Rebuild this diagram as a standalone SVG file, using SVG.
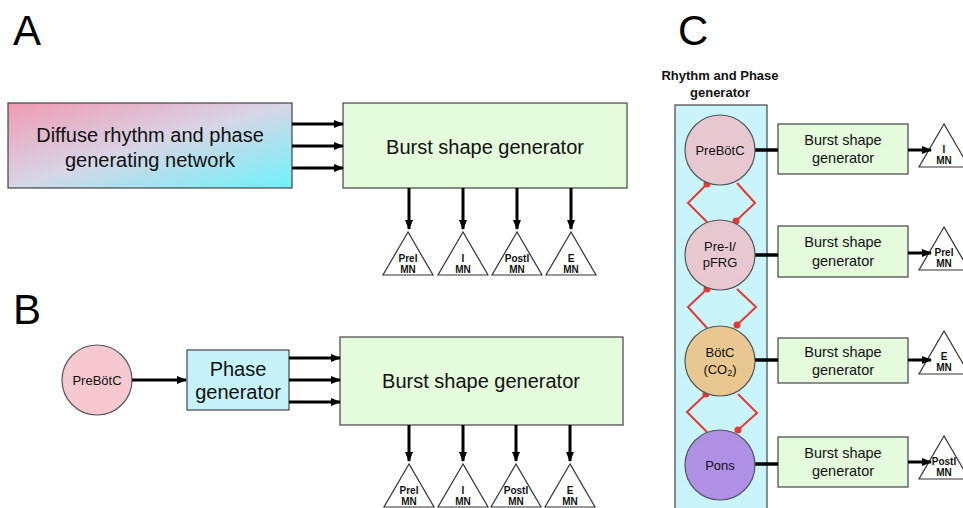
<svg xmlns="http://www.w3.org/2000/svg" width="963" height="508" viewBox="0 0 963 508">
<defs>
<linearGradient id="gdiff" x1="0" y1="0" x2="1" y2="1">
<stop offset="0" stop-color="#f09ab2"/>
<stop offset="0.5" stop-color="#d6d6e6"/>
<stop offset="1" stop-color="#6ef2fa"/>
</linearGradient>
<marker id="ah" markerWidth="10" markerHeight="8" refX="9" refY="4" orient="auto" markerUnits="userSpaceOnUse">
<path d="M0,0 L10,4 L0,8 Z" fill="#000"/>
</marker>
<marker id="dot" markerWidth="8" markerHeight="8" refX="4" refY="4" markerUnits="userSpaceOnUse">
<circle cx="4" cy="4" r="3.5" fill="#e53935"/>
</marker>
<style>
.box{stroke:#444;stroke-width:1.2}
.burst{fill:#e4fbdc}
.lbl{font-family:"Liberation Sans",Arial,sans-serif;fill:#111;text-anchor:middle}
.big{font-size:42px;font-family:"Liberation Sans",Arial,sans-serif;fill:#000}
.t20{font-size:20px}
.t14{font-size:14.5px}
.t13{font-size:13px}
.mn{font-size:10px;font-weight:bold}
.ar{stroke:#000;stroke-width:3;fill:none;marker-end:url(#ah)}
.ln{stroke:#000;stroke-width:3.5;fill:none}
.tri{fill:#fff;stroke:#333;stroke-width:1.2}
.inh{stroke:#e53935;stroke-width:2;fill:none}
.cir{stroke:#555;stroke-width:1.2}
</style>
</defs>
<rect width="963" height="508" fill="#fff"/>

<text class="big" x="13" y="45">A</text>
<text class="big" x="13" y="324">B</text>
<text class="big" x="678" y="45">C</text>

<!-- Panel A -->
<g id="diffuse">
<rect class="box" x="8" y="103" width="284" height="85" fill="url(#gdiff)"/>
<text class="lbl t20" x="150" y="142">Diffuse rhythm and phase</text>
<text class="lbl t20" x="150" y="167">generating network</text>
</g>
<g id="burstA">
<rect class="box burst" x="343" y="103" width="284" height="85"/>
<text class="lbl t20" x="485" y="154">Burst shape generator</text>
</g>
<g id="mnA">
<polygon class="tri" points="408,232 383,275 433,275"/>
<text class="lbl mn" x="408" y="262">PreI</text><text class="lbl mn" x="408" y="273">MN</text>
<polygon class="tri" points="463,232 438,275 488,275"/>
<text class="lbl mn" x="463" y="262">I</text><text class="lbl mn" x="463" y="273">MN</text>
<polygon class="tri" points="517,232 492,275 542,275"/>
<text class="lbl mn" x="517" y="262">PostI</text><text class="lbl mn" x="517" y="273">MN</text>
<polygon class="tri" points="571,232 546,275 596,275"/>
<text class="lbl mn" x="571" y="262">E</text><text class="lbl mn" x="571" y="273">MN</text>
</g>

<!-- Panel B -->
<g id="prebotB">
<circle class="cir" cx="97" cy="380" r="35" fill="#f6c8d0"/>
<text class="lbl t13" x="97" y="385">PreBötC</text>
</g>
<g id="phaseB">
<rect class="box" x="187" y="350" width="102" height="60" fill="#c6f2fa"/>
<text class="lbl t20" x="238" y="376">Phase</text>
<text class="lbl t20" x="238" y="399">generator</text>
</g>
<g id="burstB">
<rect class="box burst" x="340" y="337" width="283" height="88"/>
<text class="lbl t20" x="481" y="388">Burst shape generator</text>
</g>
<g id="mnB">
<polygon class="tri" points="409,464 384,507 434,507"/>
<text class="lbl mn" x="409" y="494">PreI</text><text class="lbl mn" x="409" y="505">MN</text>
<polygon class="tri" points="463,464 438,507 488,507"/>
<text class="lbl mn" x="463" y="494">I</text><text class="lbl mn" x="463" y="505">MN</text>
<polygon class="tri" points="516,464 491,507 541,507"/>
<text class="lbl mn" x="516" y="494">PostI</text><text class="lbl mn" x="516" y="505">MN</text>
<polygon class="tri" points="570,464 545,507 595,507"/>
<text class="lbl mn" x="570" y="494">E</text><text class="lbl mn" x="570" y="505">MN</text>
</g>

<!-- Panel C -->
<g id="rpg">
<text class="lbl t13" font-weight="bold" x="720" y="80">Rhythm and Phase</text>
<text class="lbl t13" font-weight="bold" x="720" y="97">generator</text>
<rect class="box" x="675" y="105" width="92" height="410" fill="#c8f4fa"/>
</g>
<g id="burstC1">
<rect class="box burst" x="778" y="124" width="130" height="50"/>
<text class="lbl t14" x="843" y="145">Burst shape</text>
<text class="lbl t14" x="843" y="163">generator</text>
</g>
<g id="burstC2">
<rect class="box burst" x="778" y="226" width="130" height="51"/>
<text class="lbl t14" x="843" y="247">Burst shape</text>
<text class="lbl t14" x="843" y="266">generator</text>
</g>
<g id="burstC3">
<rect class="box burst" x="778" y="338" width="130" height="45"/>
<text class="lbl t14" x="843" y="357">Burst shape</text>
<text class="lbl t14" x="843" y="375">generator</text>
</g>
<g id="burstC4">
<rect class="box burst" x="778" y="437" width="130" height="50"/>
<text class="lbl t14" x="843" y="458">Burst shape</text>
<text class="lbl t14" x="843" y="476">generator</text>
</g>
<g id="mnC">
<polygon class="tri" points="944,124 919,167 969,167"/>
<text class="lbl mn" x="944" y="153">I</text><text class="lbl mn" x="944" y="164">MN</text>
<polygon class="tri" points="944,227 919,270 969,270"/>
<text class="lbl mn" x="944" y="256">PreI</text><text class="lbl mn" x="944" y="267">MN</text>
<polygon class="tri" points="944,331 919,374 969,374"/>
<text class="lbl mn" x="944" y="360">E</text><text class="lbl mn" x="944" y="371">MN</text>
<polygon class="tri" points="944,436 919,479 969,479"/>
<text class="lbl mn" x="944" y="465">PostI</text><text class="lbl mn" x="944" y="476">MN</text>
</g>

<g id="connectors">
<path class="ar" d="M292,124 H343"/>
<path class="ar" d="M292,146 H343"/>
<path class="ar" d="M292,168 H343"/>
<path class="ar" d="M409,188 V229"/>
<path class="ar" d="M463,188 V229"/>
<path class="ar" d="M517,188 V229"/>
<path class="ar" d="M571,188 V229"/>
<path class="ar" d="M132,380 H186"/>
<path class="ar" d="M289,358 H340"/>
<path class="ar" d="M289,380 H340"/>
<path class="ar" d="M289,402 H340"/>
<path class="ar" d="M409,425 V461"/>
<path class="ar" d="M463,425 V461"/>
<path class="ar" d="M516,425 V461"/>
<path class="ar" d="M570,425 V461"/>
<path class="ln" d="M755,150 H778"/>
<path class="ln" d="M755,255 H778"/>
<path class="ln" d="M755,360 H778"/>
<path class="ln" d="M755,464 H778"/>
<path class="ar" d="M908,150 H931"/>
<path class="ar" d="M908,253 H931"/>
<path class="ar" d="M908,360 H931"/>
<path class="ar" d="M908,462 H931"/>
<!-- inhibitory -->
<path class="inh" d="M707,222 L688,203 L707,184" marker-end="url(#dot)"/>
<path class="inh" d="M737,183 L755,203 L736,221" marker-end="url(#dot)"/>
<path class="inh" d="M707,328 L688,307 L707,289" marker-end="url(#dot)"/>
<path class="inh" d="M737,289 L756,307 L737,325" marker-end="url(#dot)"/>
<path class="inh" d="M707,432 L687,412 L706,394" marker-end="url(#dot)"/>
<path class="inh" d="M738,394 L757,413 L738,430" marker-end="url(#dot)"/>
</g>

<g id="prebotC">
<circle class="cir" cx="720" cy="150" r="35" fill="#e8c8d0"/>
<text class="lbl t13" x="720" y="155">PreBötC</text>
</g>
<g id="prei">
<circle class="cir" cx="720" cy="255" r="35" fill="#e8c8d0"/>
<text class="lbl t13" x="720" y="251">Pre-I/</text>
<text class="lbl t13" x="720" y="267">pFRG</text>
</g>
<g id="botc">
<circle class="cir" cx="720" cy="361" r="35" fill="#e8c890"/>
<text class="lbl t13" x="720" y="357">BötC</text>
<text class="lbl t13" x="720" y="374">(CO<tspan font-size="9" dy="2">2</tspan><tspan dy="-2">)</tspan></text>
</g>
<g id="pons">
<circle class="cir" cx="720" cy="465" r="35" fill="#b090e4"/>
<text class="lbl t13" x="720" y="470">Pons</text>
</g>
</svg>
